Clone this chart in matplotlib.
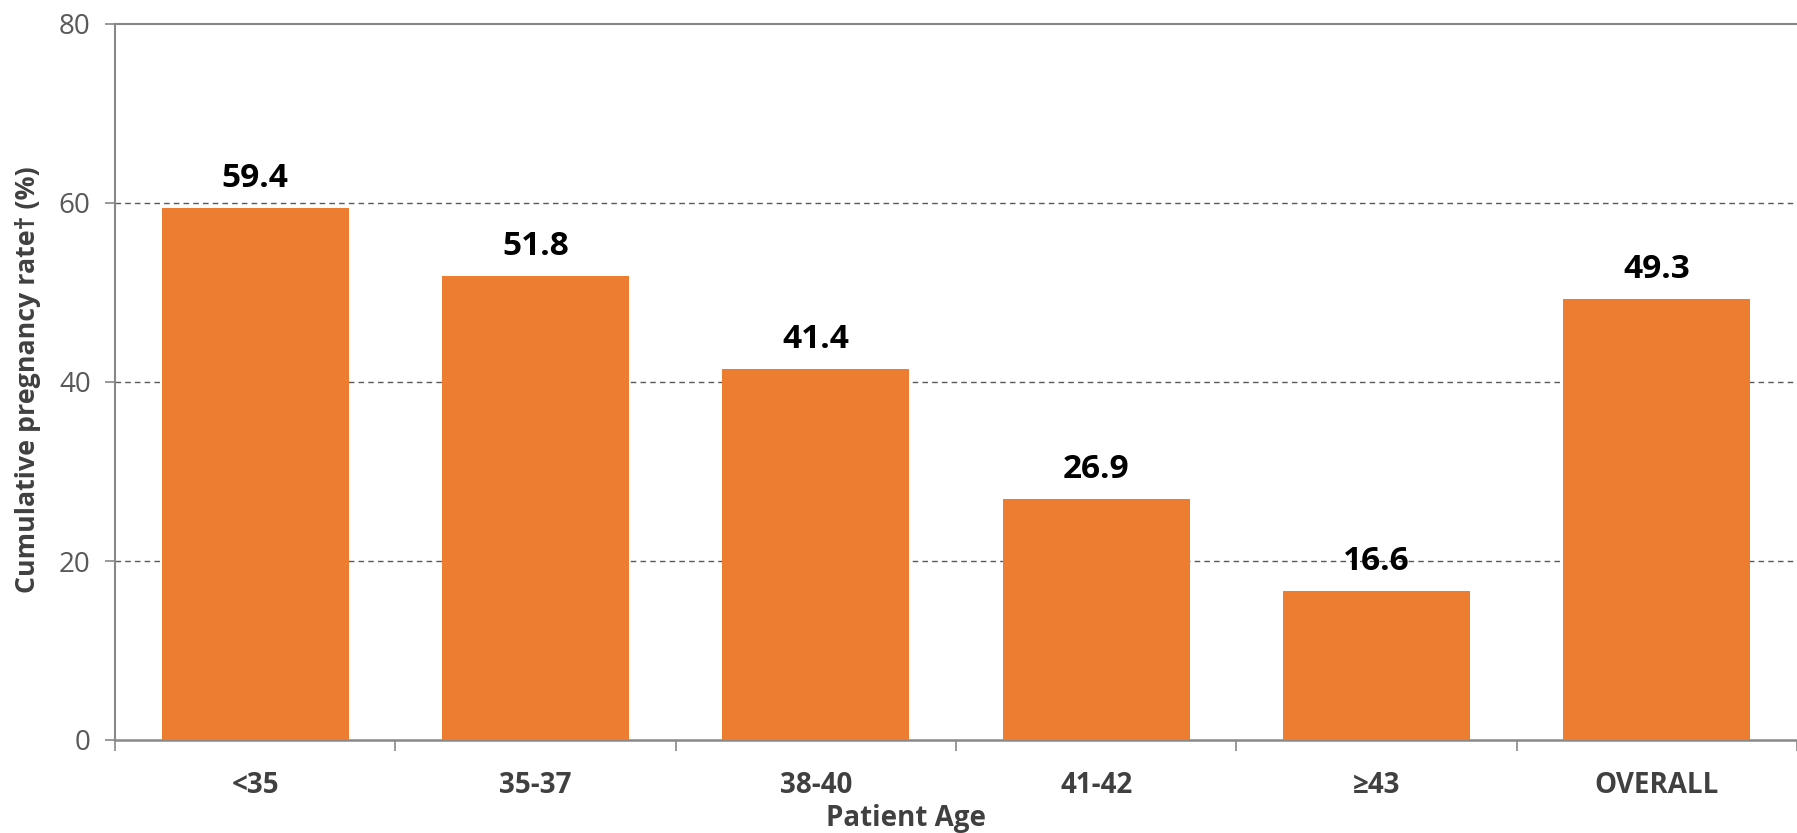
import matplotlib
matplotlib.use("Agg")
import matplotlib.pyplot as plt

categories = ["<35", "35-37", "38-40", "41-42", "≥43", "OVERALL"]
values = [59.4, 51.8, 41.4, 26.9, 16.6, 49.3]
yticks = [0, 20, 40, 60, 80]

plt.rcParams['font.family'] = ['Open Sans', 'DejaVu Sans']

W, H = 1797, 833
fig = plt.figure(figsize=(W / 100, H / 100), dpi=100)
left, bottom, top = 115 / W, (H - 740) / H, (H - 24) / H
ax = fig.add_axes([left, bottom, 1 - left, top - bottom])

orange = "#ED7D31"
x = list(range(len(categories)))
ax.bar(x, values, width=0.667, color=orange, zorder=3)

for xi, v in zip(x, values):
    ax.annotate(f"{v:.1f}", (xi, v), xytext=(0, 21), textcoords="offset pixels",
                ha="center", va="baseline", fontsize=24, fontweight="bold",
                color="black", zorder=4)

ax.set_ylim(0, 80)
ax.set_xlim(-0.5, -0.5 + (W - 115) / 281.5)
ax.set_yticks(yticks)
ax.set_yticklabels([str(t) for t in yticks], fontsize=20, color="#595959")
ax.set_xticks(x)
ax.set_xticklabels(categories, fontsize=20, fontweight="bold", color="#404040")
ax.tick_params(axis="x", length=0, pad=22)
ax.tick_params(axis="y", length=7, width=1.2, color="#888888", pad=10.5)

# minor ticks at category boundaries
ax.set_xticks([i - 0.5 for i in range(len(categories) + 1)], minor=True)
ax.tick_params(axis="x", which="minor", length=8, width=1.2, color="#888888")

for gy in [20, 40, 60]:
    ax.axhline(gy, color="#595959", lw=1.0, ls=(0, (4, 3)), zorder=1)

ax.spines["right"].set_visible(False)
ax.spines["top"].set_color("#888888")
ax.spines["top"].set_linewidth(1.5)
ax.spines["left"].set_color("#888888")
ax.spines["left"].set_linewidth(1.5)
ax.spines["bottom"].set_color("#888888")
ax.spines["bottom"].set_linewidth(1.8)

fig.text(28 / W, 1 - 380 / H, "Cumulative pregnancy rate† (%)", rotation=90,
         ha="center", va="center", fontsize=19.3, fontweight="bold", color="#404040")
fig.text(906 / W, 0, "Patient Age", ha="center", va="bottom",
         fontsize=20, fontweight="bold", color="#404040")

fig.savefig("out.png", dpi=100)
